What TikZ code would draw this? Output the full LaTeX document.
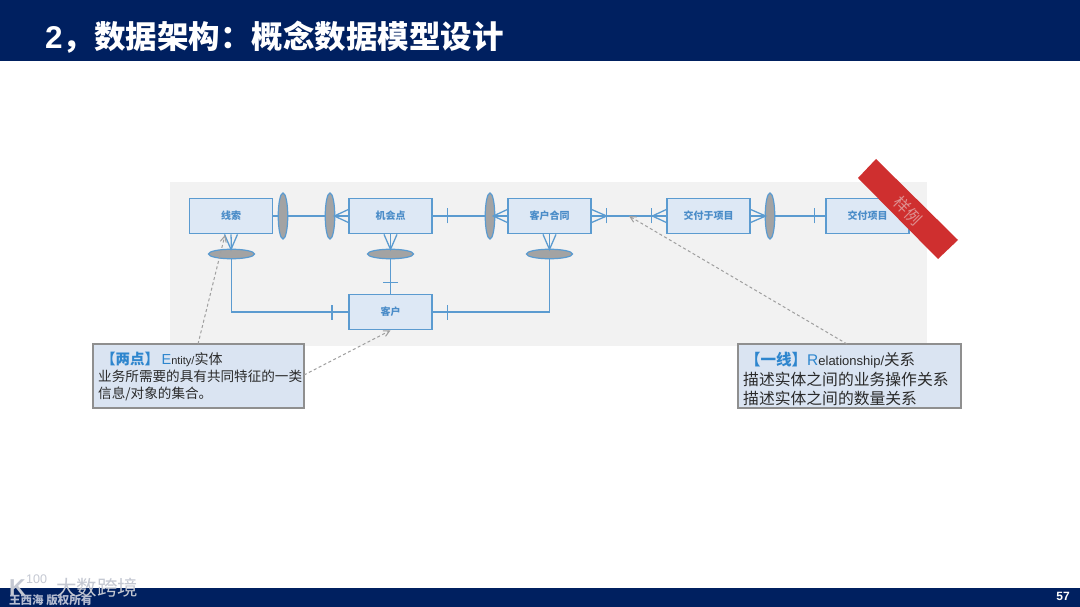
\documentclass[tikz,border=0pt]{standalone}
\usepackage{fontspec}
\setmainfont{Liberation Sans}
\newfontfamily\cjk{Noto Sans CJK SC}
\usetikzlibrary{shapes.geometric,arrows.meta}
\definecolor{navy}{HTML}{002060}
\definecolor{panel}{HTML}{F2F2F2}
\definecolor{erline}{HTML}{5B9BD0}
\definecolor{erfill}{HTML}{DDE8F5}
\definecolor{ertext}{HTML}{4A8CC8}
\definecolor{ellfill}{HTML}{A3A3A3}
\definecolor{notefill}{HTML}{DAE4F2}
\definecolor{noteline}{HTML}{8F8F8F}
\definecolor{notetext}{HTML}{2A2A2A}
\definecolor{noteblue}{HTML}{2E86CE}
\definecolor{redband}{HTML}{CF2F2F}
\definecolor{bandtext}{HTML}{DE9090}
\definecolor{wmark}{HTML}{C4C8D2}
\definecolor{foottext}{HTML}{B4BCD0}
\newcommand\crowf[5]{\draw[conn] ([shift={(#4,#5)}]#1) -- ([shift={(#2,#3)}]#1) -- ([shift={(-#4,-#5)}]#1);}
\newcommand\tickm[5]{\draw[conn] ([shift={(#2+#4,#3+#5)}]#1) -- ([shift={(#2-#4,#3-#5)}]#1);}
\tikzset{
  x=1pt,y=-1pt,
  entity/.style={draw=erline,fill=erfill,line width=1.3pt,minimum width=83pt,minimum height=35.5pt,inner sep=0pt,text=ertext,font=\cjk\bfseries\fontsize{10}{12}\selectfont},
  vell/.style={ellipse,draw=erline,fill=ellfill,line width=1.2pt,minimum width=9.5pt,minimum height=46pt,inner sep=0pt},
  hell/.style={ellipse,draw=erline,fill=ellfill,line width=1.2pt,minimum width=46pt,minimum height=9.5pt,inner sep=0pt},
  conn/.style={draw=erline,line width=1.3pt},
  note/.style={draw=noteline,fill=notefill,line width=1.3pt,inner sep=0pt},
  lead/.style={draw=gray!75,line width=1pt,dash pattern=on 3pt off 2.5pt,-{Straight Barb[length=6pt,width=6pt]}},
  notetxt/.style={anchor=west,inner sep=0pt,text=notetext},
  wmk/.style={anchor=west,inner sep=0pt,text=wmark},
}
\begin{document}
\begin{tikzpicture}
\useasboundingbox (0,0) rectangle (1080,607);
\fill[white] (0,0) rectangle (1080,607);
% bars
\fill[navy] (0,0) rectangle (1080,61);
\fill[navy] (0,588) rectangle (1080,607);
\node[anchor=west,inner sep=0pt,text=white] (title) at (45,37) {\fontsize{31.5}{34}\selectfont\bfseries 2\cjk，数据架构：概念数据模型设计};
\node[inner sep=0pt,text=white] (pageno) at (1063,596) {\fontsize{12}{13}\selectfont\bfseries 57};
% panel
\fill[panel] (170,182) rectangle (927,346);
% entities
\node[entity] (xs) at (231,216) {线索};
\node[entity] (jh) at (390.5,216) {机会点};
\node[entity] (ht) at (549.5,216) {客户合同};
\node[entity] (jf) at (708.5,216) {交付于项目};
\node[entity] (xm) at (867.5,216) {交付项目};
\node[entity] (kh) at (390.5,312) {客户};
% ellipses
\node[vell] (e1) at (283,216) {};
\node[vell] (e2) at (330,216) {};
\node[vell] (e3) at (490,216) {};
\node[vell] (e4) at (770,216) {};
\node[hell] (h1) at (231.5,254) {};
\node[hell] (h2) at (390.5,254) {};
\node[hell] (h3) at (549.5,254) {};
% connectors
\draw[conn] (xs.east) -- (e1.west);
\draw[conn] (e1.east) -- (e2.west);
\draw[conn] (e2.east) -- (jh.west);
\draw[conn] (jh.east) -- (e3.west);
\draw[conn] (e3.east) -- (ht.west);
\draw[conn] (ht.east) -- (jf.west);
\draw[conn] (jf.east) -- (e4.west);
\draw[conn] (e4.east) -- (xm.west);
\draw[conn] (xs.south) -- (h1.north);
\draw[conn] (jh.south) -- (h2.north);
\draw[conn] (ht.south) -- (h3.north);
\draw[conn] (h1.south) |- (kh.west);
\draw[conn] (h2.south) -- (kh.north);
\draw[conn] (h3.south) |- (kh.east);
% crow's feet
\crowf{jh.west}{-14}{0}{0}{6.5}
\crowf{ht.west}{-14}{0}{0}{6.5}
\crowf{ht.east}{15}{0}{0}{6.5}
\crowf{jf.west}{-14}{0}{0}{6.5}
\crowf{jf.east}{15}{0}{0}{6.5}
\crowf{xs.south}{0}{15}{6.5}{0}
\crowf{jh.south}{0}{15}{6.5}{0}
\crowf{ht.south}{0}{15}{6.5}{0}
% ticks
\tickm{jh.east}{15}{0}{0}{7.5}
\tickm{ht.east}{15}{0}{0}{7.5}
\tickm{jf.west}{-15}{0}{0}{7.5}
\tickm{xm.west}{-11}{0}{0}{7.5}
\tickm{kh.west}{-16.5}{0}{0}{7.5}
\tickm{kh.east}{14.5}{0}{0}{7.5}
\tickm{kh.north}{0}{-11}{7.5}{0}
% sample band
\fill[redband] (876,159) -- (958,240) -- (938,259) -- (858,178) -- cycle;
\node[rotate=-45,inner sep=0pt,text=bandtext] (yl) at (908,211) {\cjk\fontsize{16}{18}\selectfont 样例};
% notes
\node[note,minimum width=211pt,minimum height=64pt] (n1) at (198.5,376) {};
\node[note,minimum width=223pt,minimum height=64pt] (n2) at (849.5,376) {};
\node[notetxt] (n1a) at (101,359) {\fontsize{14.5}{16}\selectfont{\cjk\bfseries\color{noteblue}【两点】}{\color{noteblue}\,E}\fontsize{11}{15}\selectfont ntity/\cjk\fontsize{14}{15}\selectfont 实体};
\node[notetxt] (n1b) at (98,376.5) {\cjk\fontsize{13.6}{15}\selectfont 业务所需要的具有共同特征的一类};
\node[notetxt] (n1c) at (98,394) {\cjk\fontsize{13.6}{15}\selectfont 信息/对象的集合。};
\node[notetxt] (n2a) at (745,360) {\fontsize{15.5}{17}\selectfont{\cjk\bfseries\color{noteblue}【一线】}{\color{noteblue}R}\fontsize{13}{17}\selectfont elationship/\cjk\fontsize{15.5}{17}\selectfont 关系};
\node[notetxt] (n2b) at (743,379) {\cjk\fontsize{15.8}{17}\selectfont 描述实体之间的业务操作关系};
\node[notetxt] (n2c) at (743,398) {\cjk\fontsize{15.8}{17}\selectfont 描述实体之间的数量关系};
% dashed leaders
\coordinate (t1) at (225,235);
\coordinate (t3) at (629,216);
\coordinate (s1) at (198,344);
\coordinate (s2) at (304,375);
\coordinate (s3) at (847,344);
\draw[lead] (s1) -- (t1);
\draw[lead] (s2) -- (kh.south);
\draw[lead] (s3) -- (t3);
% footer and watermark
\node[anchor=west,inner sep=0pt,text=foottext] (foot) at (9,600) {\cjk\bfseries\fontsize{11.5}{13}\selectfont 王西海 版权所有};
\node[wmk] (wmkk) at (9,588) {\bfseries\fontsize{23}{24}\selectfont K};
\node[wmk] (wm1) at (26,579) {\fontsize{12.5}{13}\selectfont 100};
\node[wmk] (wm2) at (56,588) {\cjk\fontsize{20.5}{23}\selectfont 大数跨境};
\end{tikzpicture}
\end{document}
